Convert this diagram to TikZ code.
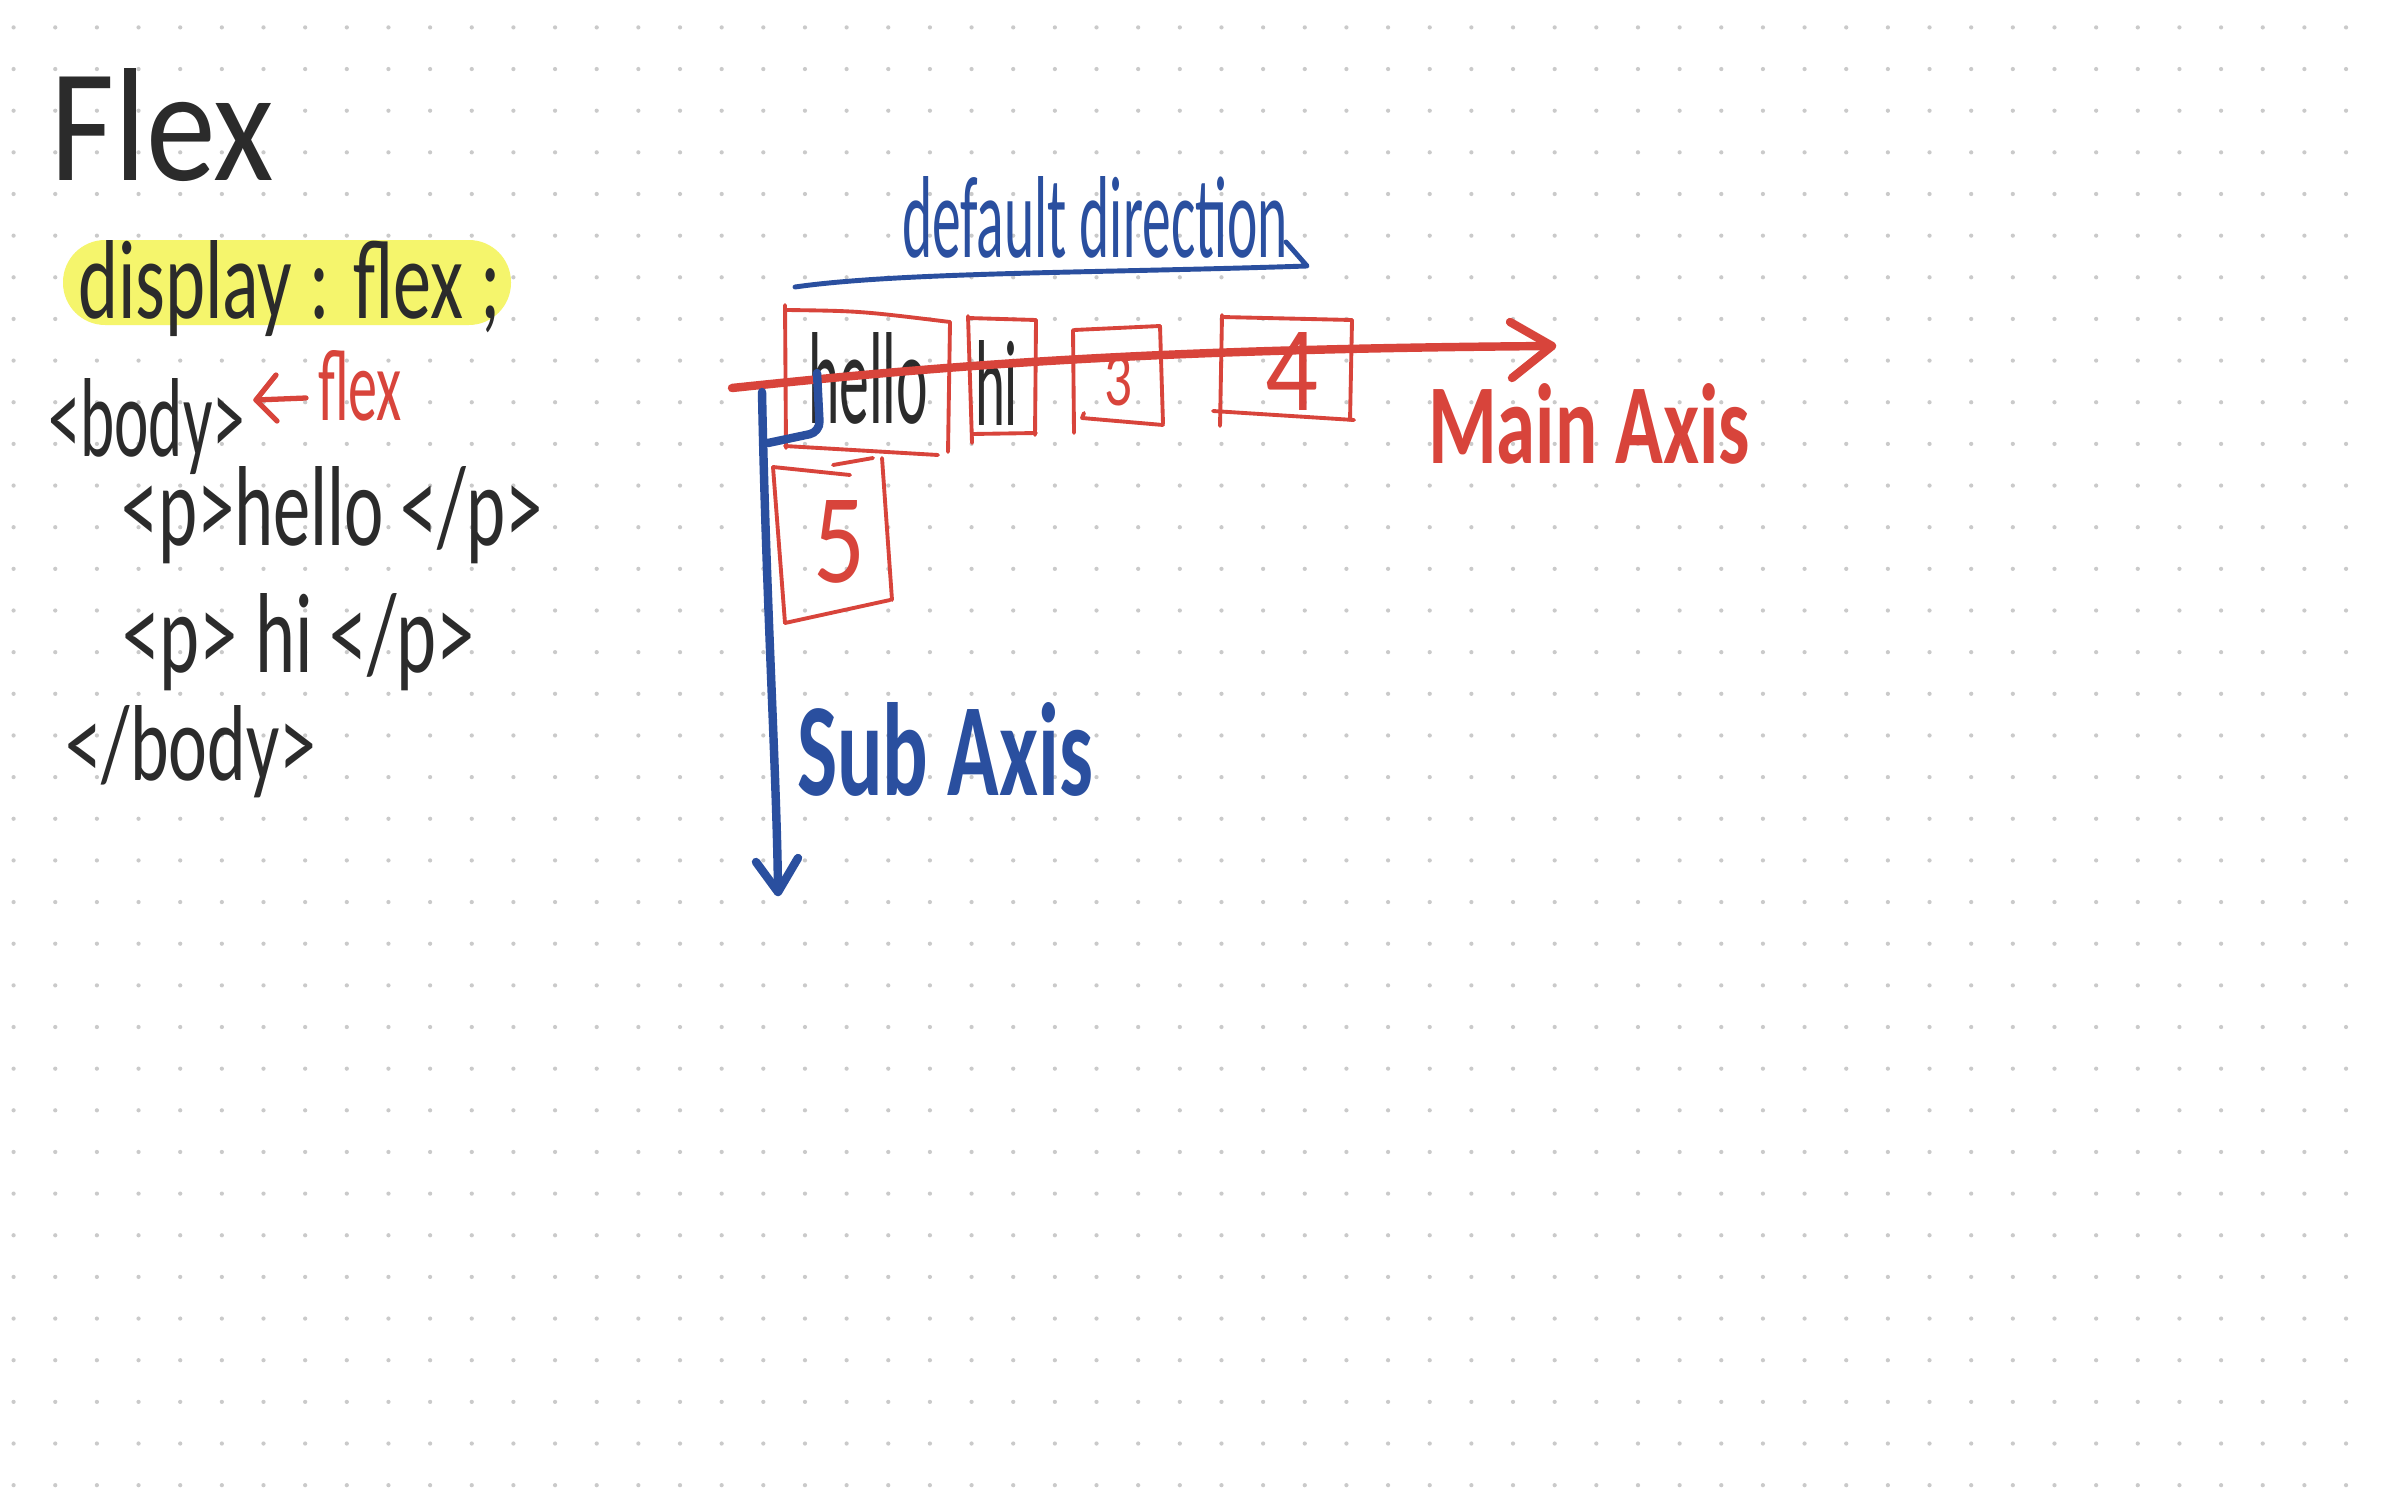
\documentclass[tikz,border=0pt]{standalone}
\usepackage{graphicx}
\usepackage{fontspec}
\setmainfont{Carlito}
\newlength\pxu
\setlength\pxu{0.01cm}
\newcommand\fitbox[3]{\resizebox{#1\pxu}{#2\pxu}{#3}}
\definecolor{inkblack}{HTML}{2B2B2B}
\definecolor{inkred}{HTML}{D8443B}
\definecolor{inkblue}{HTML}{2A4F9F}
\definecolor{hlyellow}{HTML}{F5F56C}
\definecolor{dotgray}{HTML}{CACACA}
\begin{document}
\begin{tikzpicture}[x=0.01cm,y=-0.01cm,line cap=round,line join=round,
  txt/.style={anchor=base west,inner sep=0pt,outer sep=0pt,text=inkblack},
  redpen/.style={draw=inkred,line width=1.1pt},
  redthin/.style={draw=inkred,line width=1.5pt},
  redaxis/.style={draw=inkred,line width=2.4pt},
  blueaxis/.style={draw=inkblue,line width=2.4pt},
  bluepen/.style={draw=inkblue,line width=1.4pt}]
\useasboundingbox (0,0) rectangle (2386,1491);
\fill[white] (0,0) rectangle (2386,1491);
% dot grid
\foreach \i in {0,...,56}{
  \foreach \j in {0,...,35}{
    \fill[dotgray] ({13.6+41.65*\i},{27.4+41.65*\j}) circle (0.6pt);
  }
}
% highlight
\fill[hlyellow,rounded corners=12pt] (63,240) rectangle (511,325);
% left column text
\node[txt] (title) at (50,180) {\fitbox{224}{112}{Flex}};
\node[txt] (display) at (78,318) {\fitbox{423}{78}{display : flex ;}};
\node[txt] (body) at (48,456) {\fitbox{197}{78}{<body>}};
\node[txt,text=inkred] (flexnote) at (318,420) {\fitbox{84}{70}{flex}};
\node[txt] (phello) at (121,545) {\fitbox{422}{79}{<p>hello </p>}};
\node[txt] (phi) at (122,672) {\fitbox{353}{79}{<p> hi </p>}};
\node[txt] (bodyend) at (65,780) {\fitbox{251}{75}{</body>}};
% small red arrow pointing to body
\coordinate (fa1) at (306,398);
\coordinate (fa2) at (256,400);
\coordinate (fa3) at (276,375);
\coordinate (fa4) at (277,421);
\draw[redthin] (fa1) -- (fa2);
\draw[redthin] (fa3) -- (fa2) -- (fa4);
% default direction
\node[txt,text=inkblue] (default) at (902,258) {\fitbox{386}{81}{default direction}};
\coordinate (ul0) at (1286,242);
\coordinate (ul1) at (1307,266);
\coordinate (ul2) at (795,287);
\draw[bluepen] (ul0) -- (ul1) .. controls (1100,273) and (900,272) .. (ul2);
% boxes
\draw[redpen] (785,305) -- (786,448);
\draw[redpen] (787,310) .. controls (860,311) .. (950,322);
\draw[redpen] (950,322) -- (948,452);
\draw[redpen] (785,446) -- (938,455);
\draw[redpen] (968,316) -- (972,443);
\draw[redpen] (968,318) -- (1036,320);
\draw[redpen] (1036,320) -- (1035,435);
\draw[redpen] (972,434) -- (1036,433);
\draw[redpen] (1073,330) -- (1074,433);
\draw[redpen] (1074,330) -- (1160,326);
\draw[redpen] (1160,326) -- (1163,424);
\draw[redpen] (1084,413) -- (1082,418) -- (1163,425);
\draw[redpen] (1222,315) -- (1220,426);
\draw[redpen] (1222,317) -- (1352,320);
\draw[redpen] (1352,320) -- (1350,420);
\draw[redpen] (1213,411) -- (1354,420);
\draw[redpen] (773,467) -- (785,623);
\draw[redpen] (773,467) -- (850,475);
\draw[redpen] (833,465) -- (873,458);
\draw[redpen] (882,458) -- (892,600);
\draw[redpen] (785,623) -- (890,600);
% box contents
\node[txt] (hello) at (808,423) {\fitbox{120}{91}{hello}};
\node[txt] (hi) at (975,425) {\fitbox{43}{85}{hi}};
\node[txt,text=inkred] (three) at (1104,405) {\fitbox{28}{50}{3}};
\node[txt,text=inkred] (four) at (1265,410) {\fitbox{53}{78}{4}};
\node[txt,text=inkred] (five) at (813,582) {\fitbox{52}{82}{5}};
% main axis
\coordinate (mstart) at (732,388);
\coordinate (mend) at (1552,346);
\coordinate (marmA) at (1510,322);
\coordinate (marmB) at (1512,378);
\draw[redaxis] (mstart) .. controls (950,365) and (1150,349) .. (mend);
\draw[redaxis] (marmA) -- (mend) -- (marmB);
\node[txt,text=inkred,font=\bfseries] (main) at (1428,463) {\fitbox{322}{80}{Main Axis}};
% sub axis
\coordinate (sstart) at (762,392);
\coordinate (send) at (778,892);
\coordinate (sarmA) at (756,862);
\coordinate (sarmB) at (798,858);
\draw[blueaxis] (sstart) .. controls (766,600) and (777,780) .. (send);
\draw[blueaxis] (sarmA) -- (send) -- (sarmB);
\coordinate (bl0) at (817,373);
\coordinate (bl1) at (820,432);
\coordinate (bl2) at (768,443);
\draw[blueaxis,rounded corners=3pt] (bl0) -- (bl1) -- (bl2);
\node[txt,text=inkblue,font=\bfseries] (sub) at (797,795) {\fitbox{296}{93}{Sub Axis}};
\end{tikzpicture}
\end{document}
